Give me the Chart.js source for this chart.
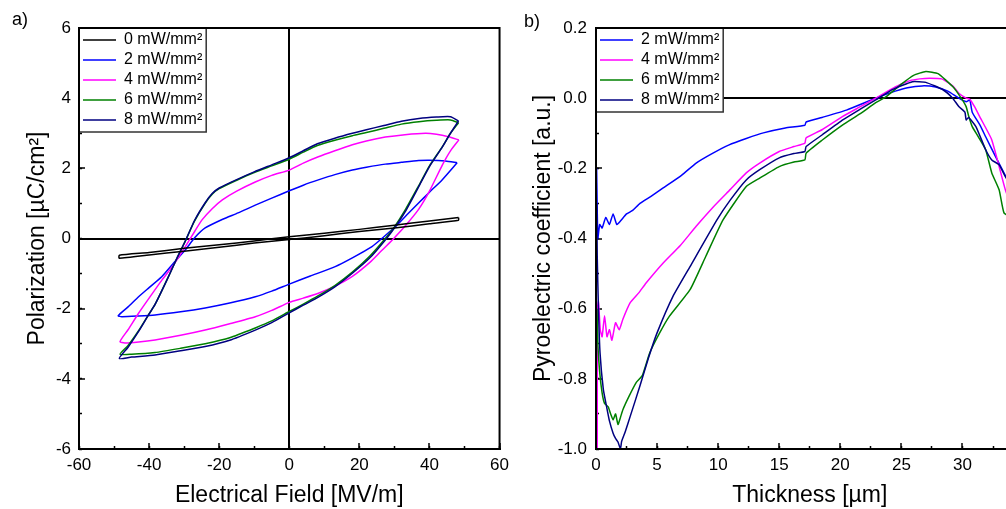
<!DOCTYPE html>
<html lang="en">
<head>
<meta charset="UTF-8" />
<title>Hysteresis loops and pyroelectric profiles</title>
<style>
  html, body { margin: 0; padding: 0; background: #fff; overflow: hidden; }
  .page { position: relative; width: 1006px; height: 509px; overflow: hidden; }
  canvas { position: absolute; top: 0; }
  #loopChart { left: 0; }
  #pyroChart { left: 510px; }
  .panel-label {
    position: absolute;
    font: 18px Arial, "Liberation Sans", sans-serif;
    color: #000;
  }
</style>
</head>
<body>
<div class="page">
  <canvas id="loopChart" width="521" height="509"></canvas>
  <canvas id="pyroChart" width="535" height="509"></canvas>
  <div class="panel-label" style="left:12px;top:9px">a)</div>
  <div class="panel-label" style="left:524px;top:11px">b)</div>
</div>
<script src="https://cdn.jsdelivr.net/npm/chart.js@4.4.2/dist/chart.umd.min.js"></script>
<script>
// ---- a) P-E loops (upper branch first, then lower branch)
const loopLabels = ["0 mW/mm²", "2 mW/mm²", "4 mW/mm²", "6 mW/mm²", "8 mW/mm²"];

const field0 = [48.3, 40, 30, 20, 10, 0, -10, -20, -30, -40, -48.5,
  -48.5, -40, -30, -20, -10, 0, 10, 20, 30, 40, 48.3, 48.3];
const pol0 = [0.6, 0.5, 0.38, 0.26, 0.15, 0.05, -0.07, -0.18, -0.28, -0.4, -0.48,
  -0.56, -0.47, -0.36, -0.25, -0.13, -0.03, 0.08, 0.2, 0.3, 0.42, 0.52, 0.6];

const field2 = [47.9, 44.6, 40, 36.9, 32, 27.4, 22, 18, 13, 8.3, 4, 0, -5, -9.7, -14.6, -19, -24, -27, -29.7, -33, -36.4, -40, -43, -46, -48.8,
  -47.8, -43, -38.3, -31, -24, -17, -9.7, -5, 0, 6, 13.1, 18, 23.6, 27, 30.3, 33.5, 36.9, 40, 43.6, 47.9];
const pol2 = [2.16, 2.21, 2.23, 2.22, 2.17, 2.12, 2.03, 1.95, 1.82, 1.67, 1.52, 1.36, 1.15, 0.95, 0.73, 0.55, 0.3, 0.02, -0.33, -0.7, -1.09, -1.4, -1.66, -1.95, -2.2,
  -2.23, -2.21, -2.18, -2.09, -1.98, -1.84, -1.66, -1.5, -1.3, -1.07, -0.8, -0.55, -0.23, 0.05, 0.34, 0.67, 1.01, 1.32, 1.67, 2.16];

const field4 = [48.4, 45.4, 42, 38.9, 33, 27.4, 22, 18, 13, 8.3, 4, 0, -5, -9.7, -15, -19.1, -22, -24.9, -27, -29.7, -33, -36.3, -40, -43, -46, -48.3,
  -46.9, -43, -38.3, -31, -24, -17, -9.7, -5, 0, 4, 8.3, 13, 18, 23, 26, 29.4, 33, 36.9, 40, 43.7, 46, 48.4];
const pol4 = [2.81, 2.9, 2.97, 3.0, 2.96, 2.89, 2.78, 2.67, 2.5, 2.33, 2.15, 1.95, 1.8, 1.61, 1.35, 1.1, 0.85, 0.53, 0.2, -0.24, -0.75, -1.18, -1.7, -2.13, -2.6, -2.94,
  -2.98, -2.95, -2.89, -2.76, -2.61, -2.43, -2.23, -2.05, -1.82, -1.7, -1.56, -1.36, -1.08, -0.68, -0.38, -0.04, 0.35, 0.83, 1.35, 2.1, 2.5, 2.81];

const field6 = [48.3, 46, 42, 37, 32, 27, 22, 18, 13, 8, 4, 0, -5, -10, -15, -20, -22, -24, -27, -29.7, -32, -35, -38.3, -40, -43, -46, -48.3,
  -45, -38.3, -31, -24, -17, -9.7, -5, 0, 4, 8.3, 13, 18, 23, 27.4, 30, 33, 36.9, 40, 43.7, 46, 48.3];
const pol6 = [3.3, 3.38, 3.37, 3.33, 3.26, 3.14, 3.02, 2.93, 2.8, 2.65, 2.46, 2.26, 2.07, 1.88, 1.66, 1.42, 1.26, 1.0, 0.5, -0.08, -0.55, -1.2, -1.88, -2.15, -2.63, -3.05, -3.3,
  -3.3, -3.25, -3.13, -3.0, -2.83, -2.55, -2.35, -2.08, -1.87, -1.63, -1.34, -0.96, -0.5, 0.0, 0.33, 0.8, 1.5, 2.07, 2.62, 3.0, 3.3];

const field8 = [48.3, 46, 42, 37, 32, 27, 22, 18, 13, 8, 4, 0, -5, -10, -15, -20, -22, -24, -27, -29.7, -32, -35, -38.3, -40, -43, -46, -48.5,
  -45, -38.3, -31, -24, -17, -9.7, -5, 0, 4, 8.3, 13, 18, 23, 27.4, 30, 33, 36.9, 40, 43.7, 46, 48.3];
const pol8 = [3.35, 3.47, 3.46, 3.42, 3.34, 3.22, 3.1, 3.0, 2.86, 2.7, 2.5, 2.3, 2.1, 1.9, 1.68, 1.44, 1.28, 1.02, 0.52, -0.08, -0.55, -1.2, -1.88, -2.15, -2.65, -3.1, -3.42,
  -3.38, -3.32, -3.2, -3.08, -2.9, -2.61, -2.4, -2.12, -1.9, -1.67, -1.38, -0.99, -0.55, -0.04, 0.3, 0.75, 1.47, 2.05, 2.61, 3.0, 3.35];

// ---- b) pyroelectric coefficient vs thickness
const pyroLabels = ["2 mW/mm²", "4 mW/mm²", "6 mW/mm²", "8 mW/mm²"];

const thick2 = [0.05, 0.15, 0.3, 0.5, 0.8, 1.1, 1.4, 1.7, 2.0, 2.5, 3.0, 3.6, 4.5, 5.5, 7, 8.2, 9.5, 10.9, 12.3, 13.7, 15.5, 17.1, 17.2, 18.5, 20.5,
  22.9, 24.5, 25.5, 26.7, 27.8, 28.8, 29.7, 30.3, 30.6, 30.8, 31.4, 31.9, 32.7, 33.5, 34.2];
const pyro2 = [-0.2, -0.4, -0.36, -0.37, -0.34, -0.36, -0.33, -0.36, -0.35, -0.33, -0.32, -0.3, -0.28, -0.256, -0.22, -0.185, -0.158, -0.133, -0.115, -0.099, -0.085, -0.077, -0.068, -0.055, -0.034,
  0.0, 0.02, 0.03, 0.035, 0.032, 0.02, 0.0, -0.01, -0.005, -0.04, -0.075, -0.11, -0.166, -0.22, -0.27];

const thick4 = [0.1, 0.12, 0.2, 0.35, 0.5, 0.7, 0.9, 1.1, 1.3, 1.6, 1.9, 2.2, 2.8, 3.5, 4.1, 5.5, 6.9, 8.2, 9.6, 11, 12.3, 13.4, 15, 16.2, 17.1, 17.2,
  18.5, 20.2, 21.6, 22.9, 24.5, 25.7, 26.5, 27.3, 28.3, 29.2, 29.7, 30.3, 30.6, 31.0, 31.4, 32.4, 33.5, 34.2];
const pyro4 = [-1.0, -0.6, -0.58, -0.66, -0.68, -0.62, -0.68, -0.66, -0.69, -0.64, -0.66, -0.63, -0.583, -0.555, -0.527, -0.47, -0.42, -0.365, -0.31, -0.26, -0.213, -0.185, -0.152, -0.138, -0.128, -0.113,
  -0.09, -0.052, -0.025, 0.0, 0.032, 0.05, 0.055, 0.057, 0.055, 0.035, 0.014, 0.0, -0.003, -0.025, -0.052, -0.119, -0.26, -0.33];

const thick6 = [0.08, 0.15, 0.3, 0.5, 0.7, 1.0, 1.2, 1.4, 1.6, 1.8, 2.0, 2.2, 2.7, 3.3, 3.8, 4.4, 5.2, 6.0, 7.7, 9.0, 10.4, 12.3, 13.4, 15, 16.2, 17.1, 17.2,
  18.5, 20.2, 21.6, 22.9, 23.7, 25, 26, 27, 28, 29.2, 29.8, 30.3, 30.5, 30.8, 31.3, 31.9, 32.4, 33, 33.4, 34.0];
const pyro6 = [-0.6, -0.7, -0.78, -0.84, -0.87, -0.88, -0.9, -0.917, -0.9, -0.93, -0.91, -0.888, -0.85, -0.81, -0.79, -0.726, -0.67, -0.622, -0.546, -0.45, -0.347, -0.252, -0.228, -0.195, -0.182, -0.176, -0.157,
  -0.12, -0.076, -0.045, -0.013, 0.003, 0.04, 0.065, 0.076, 0.07, 0.033, 0.005, -0.024, -0.05, -0.081, -0.11, -0.147, -0.213, -0.261, -0.327, -0.34];

const thick8 = [0.06, 0.1, 0.2, 0.33, 0.6, 0.87, 1.1, 1.4, 1.6, 1.8, 2.0, 2.1, 2.4, 2.8, 3.6, 4.3, 5.0, 6.3, 7.7, 9.9, 11, 12.3, 13.4, 15, 16.2, 17.1, 17.2,
  18.5, 20.2, 21.6, 22.9, 24.3, 25.9, 27, 28.4, 29.2, 29.7, 30.2, 30.3, 30.5, 31.1, 31.9, 32.4, 33.0, 33.5, 34.2];
const pyro8 = [-0.3, -0.45, -0.6, -0.726, -0.83, -0.88, -0.92, -0.955, -0.97, -0.98, -1.0, -0.978, -0.95, -0.907, -0.82, -0.74, -0.669, -0.565, -0.48, -0.347, -0.29, -0.233, -0.204, -0.17, -0.158, -0.152, -0.138,
  -0.105, -0.062, -0.032, -0.005, 0.025, 0.047, 0.045, 0.024, 0.0, -0.024, -0.04, -0.062, -0.055, -0.081, -0.147, -0.176, -0.19, -0.223, -0.26];

// ---- styling
const FONT = 'Arial, "Liberation Sans", sans-serif';
const colorByPower = {
  "0 mW/mm²": "#000000",
  "2 mW/mm²": "#0000ff",
  "4 mW/mm²": "#ff00ff",
  "6 mW/mm²": "#008000",
  "8 mW/mm²": "#000080",
};
// draw weight: lower number ends up on top
const orderByPower = {
  "0 mW/mm²": 0, "2 mW/mm²": 4, "4 mW/mm²": 3, "6 mW/mm²": 2, "8 mW/mm²": 1,
};

Chart.defaults.font.family = FONT;
Chart.defaults.color = "#000";

function toPoints(xs, ys) {
  return xs.map((x, i) => ({ x, y: ys[i] }));
}

function makeDataset(label, xs, ys, tension) {
  return {
    label,
    data: toPoints(xs, ys),
    showLine: true,
    borderColor: colorByPower[label],
    backgroundColor: colorByPower[label],
    borderWidth: 1.5,
    pointRadius: 0,
    pointHoverRadius: 0,
    tension,
    order: orderByPower[label],
  };
}

const isZero = (v) => Math.abs(v) < 1e-9;
const zeroLineColor = (ctx) => (ctx.tick && isZero(ctx.tick.value) ? "#000" : "rgba(0,0,0,0)");

// legend sits inside the plot, boxed in white; the frame goes on top of everything
const frameAndLegendBox = {
  id: "frameAndLegendBox",
  afterLayout(chart) {
    // a 'chartArea' legend gets top = 0 from Chart.js, pin it to the plot's top edge
    const legend = chart.legend;
    if (!legend) return;
    const h = legend.bottom - legend.top;
    legend.top = chart.chartArea.top;
    legend.bottom = legend.top + h;
  },
  afterDatasetsDraw(chart) {
    const { ctx, chartArea: area, legend } = chart;
    ctx.save();
    if (legend && legend.legendHitBoxes && legend.legendHitBoxes.length) {
      const pad = legend.options.labels.padding;
      let right = 0;
      let bottom = 0;
      for (const hb of legend.legendHitBoxes) {
        right = Math.max(right, hb.left + hb.width);
        bottom = Math.max(bottom, hb.top + hb.height);
      }
      const w = right + pad - area.left;
      const h = bottom + pad - area.top;
      ctx.fillStyle = "#fff";
      ctx.fillRect(area.left, area.top, w, h);
      ctx.strokeStyle = "#333";
      ctx.lineWidth = 1.5;
      ctx.strokeRect(area.left, area.top, w, h);
      legend.draw();
    }
    ctx.strokeStyle = "#000";
    ctx.lineWidth = 2;
    ctx.strokeRect(area.left, area.top, area.right - area.left, area.bottom - area.top);
    ctx.restore();
  },
};

function legendOptions() {
  return {
    position: "chartArea",
    align: "start",
    labels: {
      usePointStyle: true,
      pointStyle: "line",
      pointStyleWidth: 33,
      font: { size: 16, family: FONT },
      color: "#000",
      padding: 4,
      sort: (a, b) => a.datasetIndex - b.datasetIndex,
    },
  };
}

function majorAxis({ min, max, step, size, fit, labelPadding, title, titlePadding, gridColor, format }) {
  return {
    type: "linear",
    min,
    max,
    afterFit(scale) {
      scale[fit] = size;
    },
    ticks: {
      stepSize: step,
      font: { size: 17, family: FONT },
      color: "#000",
      padding: labelPadding,
      maxRotation: 0,
      autoSkip: false,
      callback: format,
    },
    grid: { color: gridColor, lineWidth: 2, tickLength: -6, tickColor: "#000", tickWidth: 1.5 },
    border: { color: "#000", width: 2 },
    title: { display: true, text: title, color: "#000", font: { size: 23, family: FONT }, padding: titlePadding },
  };
}

function minorAxis(axis, min, max, step, position) {
  return {
    axis,
    type: "linear",
    position,
    min,
    max,
    ticks: { stepSize: step, display: false },
    grid: { drawOnChartArea: false, tickLength: -3, tickColor: "#000", tickWidth: 1.5 },
    border: { display: false },
  };
}

// ---- a)
new Chart(document.getElementById("loopChart"), {
  type: "scatter",
  data: {
    datasets: [
      makeDataset(loopLabels[0], field0, pol0, 0.2),
      makeDataset(loopLabels[1], field2, pol2, 0.2),
      makeDataset(loopLabels[2], field4, pol4, 0.2),
      makeDataset(loopLabels[3], field6, pol6, 0.2),
      makeDataset(loopLabels[4], field8, pol8, 0.2),
    ],
  },
  options: {
    responsive: false,
    animation: false,
    events: [],
    layout: { padding: { top: 28, right: 0, bottom: 0, left: 0 } },
    scales: {
      x: {
        position: "bottom",
        ...majorAxis({
          min: -60, max: 60, step: 20, size: 60, fit: "height", labelPadding: 12,
          title: "Electrical Field [MV/m]", titlePadding: { top: 0, bottom: 0 },
          gridColor: zeroLineColor,
        }),
      },
      y: {
        position: "left",
        ...majorAxis({
          min: -6, max: 6, step: 2, size: 79, fit: "width", labelPadding: 14,
          title: "Polarization [µC/cm²]", titlePadding: { top: 24, bottom: 0 },
          gridColor: zeroLineColor,
        }),
      },
      xMinor: minorAxis("x", -60, 60, 10, { y: -6 }),
      yMinor: minorAxis("y", -6, 6, 1, { x: -60 }),
    },
    plugins: {
      legend: legendOptions(),
      tooltip: { enabled: false },
    },
  },
  plugins: [frameAndLegendBox],
});

// ---- b)
new Chart(document.getElementById("pyroChart"), {
  type: "scatter",
  data: {
    datasets: [
      makeDataset(pyroLabels[0], thick2, pyro2, 0.15),
      makeDataset(pyroLabels[1], thick4, pyro4, 0.15),
      makeDataset(pyroLabels[2], thick6, pyro6, 0.15),
      makeDataset(pyroLabels[3], thick8, pyro8, 0.15),
    ],
  },
  options: {
    responsive: false,
    animation: false,
    events: [],
    layout: { padding: { top: 28, right: 0, bottom: 0, left: 0 } },
    scales: {
      x: {
        position: "bottom",
        ...majorAxis({
          min: 0, max: 35, step: 5, size: 60, fit: "height", labelPadding: 12,
          title: "Thickness [µm]", titlePadding: { top: 0, bottom: 0 },
          gridColor: "rgba(0,0,0,0)",
        }),
      },
      y: {
        position: "left",
        ...majorAxis({
          min: -1.0, max: 0.2, step: 0.2, size: 86, fit: "width", labelPadding: 15,
          title: "Pyroelectric coefficient [a.u.]", titlePadding: { top: 20, bottom: 0 },
          gridColor: zeroLineColor,
          format: (v) => (isZero(v) ? "0.0" : Number(v).toFixed(1)),
        }),
      },
      xMinor: minorAxis("x", 0, 35, 2.5, { y: -1.0 }),
      yMinor: minorAxis("y", -1.0, 0.2, 0.1, { x: 0 }),
    },
    plugins: {
      legend: legendOptions(),
      tooltip: { enabled: false },
    },
  },
  plugins: [frameAndLegendBox],
});
</script>
</body>
</html>
